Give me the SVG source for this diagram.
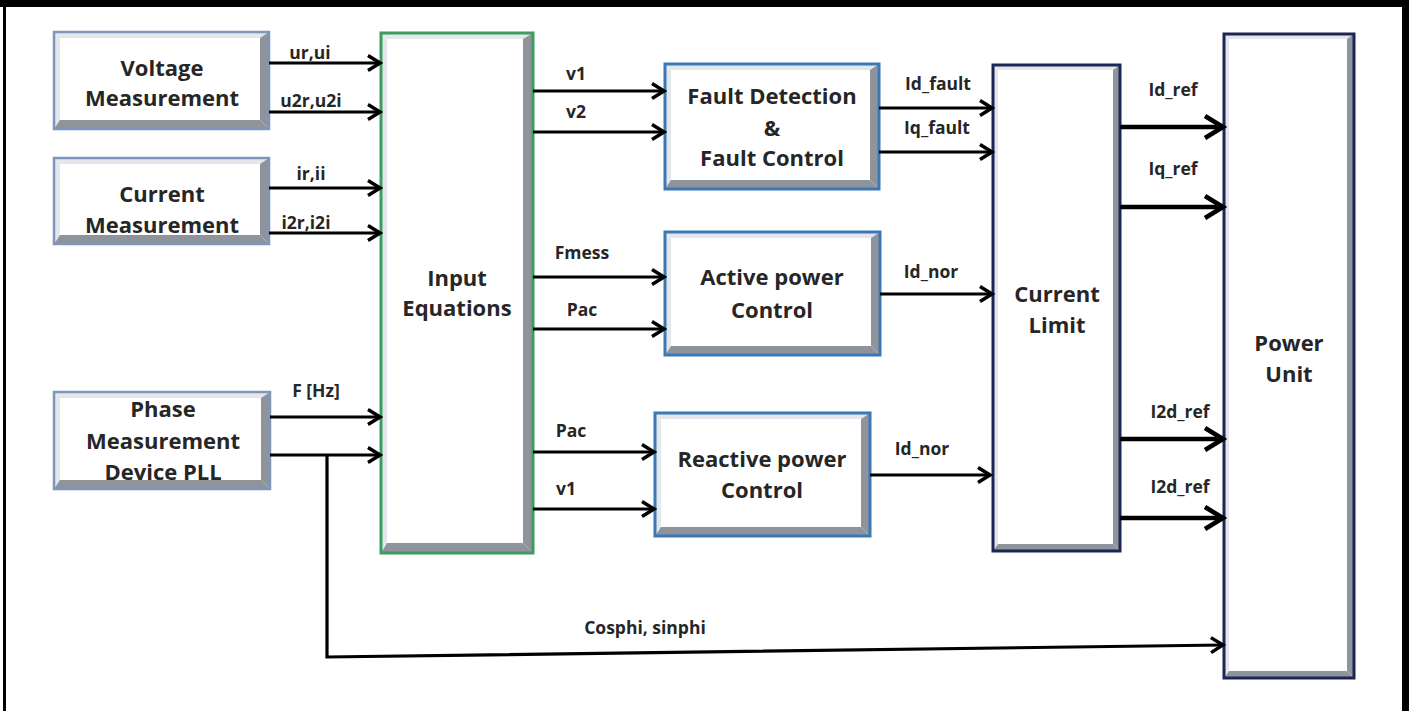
<svg xmlns="http://www.w3.org/2000/svg" width="1409" height="711" viewBox="0 0 1409 711">
<defs>
<style>
.t{font-family:"Open Sans","Liberation Sans",sans-serif;font-weight:bold;font-size:22px;fill:#262626;text-anchor:middle}
.l{font-family:"Open Sans","Liberation Sans",sans-serif;font-weight:bold;font-size:17.5px;fill:#262626;text-anchor:middle}
.face{fill:#ffffff}
.lt{fill:#e3e6eb}
.dk{fill:#8f939b}
.e1{fill:none;stroke:#7f96bb;stroke-width:2.5}
.e2{fill:none;stroke:#3b78b6;stroke-width:3}
.e3{fill:none;stroke:#3d9c60;stroke-width:3}
.e4{fill:none;stroke:#1c2654;stroke-width:3}
.c{fill:none;stroke:#000;stroke-width:3.2;marker-end:url(#a)}
.cb{fill:none;stroke:#000;stroke-width:4.6;marker-end:url(#b)}
</style>
<marker id="a" markerUnits="userSpaceOnUse" markerWidth="18" markerHeight="20" viewBox="0 0 18 20" refX="15" refY="10" orient="auto">
<path d="M3,2.5 L15,10 L3,17.5" fill="none" stroke="#000" stroke-width="3.4"/>
</marker>
<marker id="b" markerUnits="userSpaceOnUse" markerWidth="26" markerHeight="28" viewBox="0 0 26 28" refX="22" refY="14" orient="auto">
<path d="M4,3 L22,14 L4,25" fill="none" stroke="#000" stroke-width="4.6"/>
</marker>
</defs>
<rect x="0" y="0" width="1409" height="711" fill="#ffffff"/>
<rect x="0" y="0" width="1409" height="7" fill="#000"/>
<rect x="3" y="0" width="3" height="711" fill="#000"/>
<rect x="1402" y="0" width="7" height="711" fill="#000"/>

<g id="voltage">
<rect class="face" x="54" y="32" width="215" height="97"/>
<polygon class="lt" points="54,32 60,38 60,120 54,129"/>
<polygon class="lt" points="54,32 269,32 260,38 60,38"/>
<polygon class="dk" points="269,32 269,129 260,120 260,38"/>
<polygon class="dk" points="54,129 269,129 260,120 60,120"/>
<rect class="e1" x="54" y="32" width="215" height="97"/>
<text class="t" x="162" y="76">Voltage</text>
<text class="t" x="162" y="106">Measurement</text>
</g>

<g id="current">
<rect class="face" x="54" y="158" width="215" height="86"/>
<polygon class="lt" points="54,158 60,164 60,235 54,244"/>
<polygon class="lt" points="54,158 269,158 260,164 60,164"/>
<polygon class="dk" points="269,158 269,244 260,235 260,164"/>
<polygon class="dk" points="54,244 269,244 260,235 60,235"/>
<rect class="e1" x="54" y="158" width="215" height="86"/>
<text class="t" x="162" y="202">Current</text>
<text class="t" x="162" y="233">Measurement</text>
</g>

<g id="phase">
<rect class="face" x="54" y="392" width="216" height="97"/>
<polygon class="lt" points="54,392 60,398 60,480 54,489"/>
<polygon class="lt" points="54,392 270,392 261,398 60,398"/>
<polygon class="dk" points="270,392 270,489 261,480 261,398"/>
<polygon class="dk" points="54,489 270,489 261,480 60,480"/>
<rect class="e1" x="54" y="392" width="216" height="97"/>
<text class="t" x="163" y="417">Phase</text>
<text class="t" x="163" y="449">Measurement</text>
<text class="t" x="163" y="480">Device PLL</text>
</g>

<g id="input">
<rect class="face" x="381" y="33" width="152" height="520"/>
<polygon class="lt" points="381,33 387,39 387,543 381,553"/>
<polygon class="lt" points="381,33 533,33 523,39 387,39"/>
<polygon class="dk" points="533,33 533,553 523,543 523,39"/>
<polygon class="dk" points="381,553 533,553 523,543 387,543"/>
<rect class="e3" x="381" y="33" width="152" height="520"/>
<text class="t" x="457" y="286">Input</text>
<text class="t" x="457" y="316">Equations</text>
</g>

<g id="fault">
<rect class="face" x="665" y="64" width="214" height="125"/>
<polygon class="lt" points="665,64 671,70 671,180 665,189"/>
<polygon class="lt" points="665,64 879,64 870,70 671,70"/>
<polygon class="dk" points="879,64 879,189 870,180 870,70"/>
<polygon class="dk" points="665,189 879,189 870,180 671,180"/>
<rect class="e2" x="665" y="64" width="214" height="125"/>
<text class="t" x="772" y="104">Fault Detection</text>
<text class="t" x="772" y="136">&amp;</text>
<text class="t" x="772" y="166">Fault Control</text>
</g>

<g id="active">
<rect class="face" x="665" y="232" width="215" height="123"/>
<polygon class="lt" points="665,232 671,238 671,346 665,355"/>
<polygon class="lt" points="665,232 880,232 871,238 671,238"/>
<polygon class="dk" points="880,232 880,355 871,346 871,238"/>
<polygon class="dk" points="665,355 880,355 871,346 671,346"/>
<rect class="e2" x="665" y="232" width="215" height="123"/>
<text class="t" x="772" y="285">Active power</text>
<text class="t" x="772" y="318">Control</text>
</g>

<g id="reactive">
<rect class="face" x="655" y="413" width="215" height="123"/>
<polygon class="lt" points="655,413 661,419 661,527 655,536"/>
<polygon class="lt" points="655,413 870,413 861,419 661,419"/>
<polygon class="dk" points="870,413 870,536 861,527 861,419"/>
<polygon class="dk" points="655,536 870,536 861,527 661,527"/>
<rect class="e2" x="655" y="413" width="215" height="123"/>
<text class="t" x="762" y="467">Reactive power</text>
<text class="t" x="762" y="498">Control</text>
</g>

<g id="limit">
<rect class="face" x="993" y="65" width="127" height="486"/>
<polygon class="lt" points="993,65 998,70 998,544 993,551"/>
<polygon class="lt" points="993,65 1120,65 1113,70 998,70"/>
<polygon class="dk" points="1120,65 1120,551 1113,544 1113,70"/>
<polygon class="dk" points="993,551 1120,551 1113,544 998,544"/>
<rect class="e4" x="993" y="65" width="127" height="486"/>
<text class="t" x="1057" y="302">Current</text>
<text class="t" x="1057" y="333">Limit</text>
</g>

<g id="power">
<rect class="face" x="1224" y="34" width="130" height="644"/>
<polygon class="lt" points="1224,34 1229,39 1229,671 1224,678"/>
<polygon class="lt" points="1224,34 1354,34 1347,39 1229,39"/>
<polygon class="dk" points="1354,34 1354,678 1347,671 1347,39"/>
<polygon class="dk" points="1224,678 1354,678 1347,671 1229,671"/>
<rect class="e4" x="1224" y="34" width="130" height="644"/>
<text class="t" x="1289" y="351">Power</text>
<text class="t" x="1289" y="382">Unit</text>
</g>

<g id="connectors">
<line class="c" x1="269" y1="63" x2="380" y2="63"/>
<line class="c" x1="269" y1="112" x2="380" y2="112"/>
<line class="c" x1="269" y1="188" x2="380" y2="188"/>
<line class="c" x1="269" y1="233" x2="380" y2="233"/>
<line class="c" x1="270" y1="417" x2="380" y2="417"/>
<line class="c" x1="270" y1="455" x2="380" y2="455"/>
<line class="c" x1="533" y1="91" x2="664" y2="91"/>
<line class="c" x1="533" y1="132" x2="664" y2="132"/>
<line class="c" x1="533" y1="277" x2="664" y2="277"/>
<line class="c" x1="533" y1="329" x2="664" y2="329"/>
<line class="c" x1="533" y1="452" x2="654" y2="452"/>
<line class="c" x1="533" y1="509" x2="654" y2="509"/>
<line class="c" x1="879" y1="108" x2="992" y2="108"/>
<line class="c" x1="879" y1="152" x2="992" y2="152"/>
<line class="c" x1="880" y1="294" x2="992" y2="294"/>
<line class="c" x1="870" y1="475" x2="990" y2="475"/>
<line class="cb" x1="1120" y1="127" x2="1223" y2="127"/>
<line class="cb" x1="1120" y1="207" x2="1223" y2="207"/>
<line class="cb" x1="1120" y1="439" x2="1223" y2="439"/>
<line class="cb" x1="1120" y1="518" x2="1223" y2="518"/>
<polyline class="c" points="327,454 327,657 1223,645"/>
<text class="l" x="310" y="59">ur,ui</text>
<text class="l" x="311" y="107">u2r,u2i</text>
<text class="l" x="311" y="180">ir,ii</text>
<text class="l" x="306" y="229">i2r,i2i</text>
<text class="l" x="316" y="397">F [Hz]</text>
<text class="l" x="576" y="80">v1</text>
<text class="l" x="576" y="118">v2</text>
<text class="l" x="582" y="259">Fmess</text>
<text class="l" x="582" y="316">Pac</text>
<text class="l" x="571" y="437">Pac</text>
<text class="l" x="566" y="495">v1</text>
<text class="l" x="938" y="90">Id_fault</text>
<text class="l" x="937" y="134">Iq_fault</text>
<text class="l" x="931" y="278">Id_nor</text>
<text class="l" x="922" y="455">Id_nor</text>
<text class="l" x="1173" y="96">Id_ref</text>
<text class="l" x="1173" y="175">Iq_ref</text>
<text class="l" x="1180" y="418">I2d_ref</text>
<text class="l" x="1180" y="493">I2d_ref</text>
<text class="l" x="645" y="634">Cosphi, sinphi</text>
</g>
</svg>
